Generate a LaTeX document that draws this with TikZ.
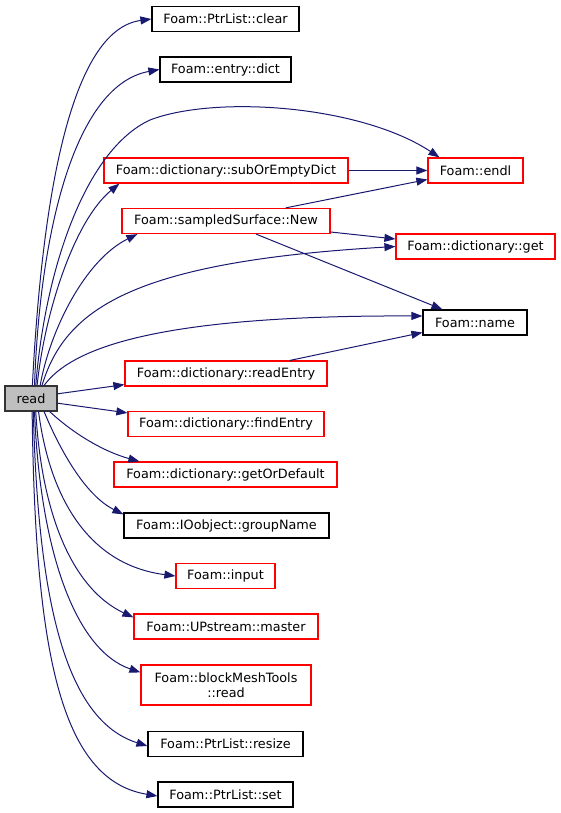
\documentclass[tikz,border=0pt]{standalone}
\usepackage{fontspec}
\setmainfont{DejaVu Sans}
\usepackage{tikz}
\usetikzlibrary{arrows.meta}
\definecolor{calledge}{RGB}{25,25,112}
\definecolor{docred}{RGB}{255,0,0}
\definecolor{rootgray}{RGB}{191,191,191}

\begin{document}
\begin{tikzpicture}[x=1pt, y=-1pt,
  every node/.style={font=\fontsize{12.8}{15}\selectfont},
  fn/.style={rectangle, draw=black, fill=white, line width=1.2pt,
             minimum height=25pt, inner sep=1pt, align=center},
  fnred/.style={fn, draw=docred},
  root/.style={fn, fill=rootgray, draw=black!80},
  call/.style={-{Triangle[length=11pt,width=8pt]}, draw=calledge, line width=1pt},
]
\useasboundingbox (0,0) rectangle (560,813);

% Caller
\node[root, minimum width=52pt] (read) at (31,398.5) {read};

% Callees, upper part
\node[fn, minimum width=147pt]    (clear)  at (225.5,19)   {Foam::PtrList::clear};
\node[fn, minimum width=131pt]    (dict)   at (225.5,69.5) {Foam::entry::dict};
\node[fnred, minimum width=244pt] (subdict) at (226,170.5) {Foam::dictionary::subOrEmptyDict};
\node[fnred, minimum width=208pt] (ssnew)  at (226,221)    {Foam::sampledSurface::New};
\node[fnred, minimum width=95pt]  (endl)   at (475.5,170.5) {Foam::endl};
\node[fnred, minimum width=159pt] (get)    at (475.5,246.5) {Foam::dictionary::get};
\node[fn, minimum width=104pt]    (name)   at (475,322.5)  {Foam::name};

% Callees, lower part
\node[fnred, minimum width=202pt] (readentry) at (226,373.5) {Foam::dictionary::readEntry};
\node[fnred, minimum width=196pt] (findentry) at (226,424)   {Foam::dictionary::findEntry};
\node[fnred, minimum width=223pt] (getordef)  at (225.5,474.5) {Foam::dictionary::getOrDefault};
\node[fn, minimum width=205pt]    (groupname) at (226.5,525.5) {Foam::IOobject::groupName};
\node[fnred, minimum width=99pt]  (input)     at (225.5,576) {Foam::input};
\node[fnred, minimum width=184pt] (master)    at (226,626.5) {Foam::UPstream::master};
\node[fnred, minimum width=170pt, minimum height=40pt] (bmtread) at (226,685)
     {Foam::blockMeshTools\\::read};
\node[fn, minimum width=155pt]    (resize)    at (225.5,744) {Foam::PtrList::resize};
\node[fn, minimum width=135pt]    (ptrset)    at (225.5,794.5) {Foam::PtrList::set};

% Calls from read
\draw[call] (read.84) .. controls (42,200) and (70,30) .. (clear.west);
\draw[call] (read.75) .. controls (40,230) and (75,85) .. (dict.west);
\draw[call] (read.70) .. controls (45,270) and (85,150) .. (150,120)
            .. controls (215,95) and (360,105) .. (endl.160);
\draw[call] (read.65) .. controls (45,310) and (75,220) .. ([xshift=16pt]subdict.south west);
\draw[call] (read.55) .. controls (50,330) and (85,260) .. ([xshift=16pt]ssnew.south west);
\draw[call] (read.50) .. controls (65,310) and (130,262) .. (get.west);
\draw[call] (read.45) .. controls (70,350) and (150,315) .. ([yshift=6.5pt]name.west);
\draw[call] (read.10) -- ([yshift=2pt]readentry.south west);
\draw[call] (read.-10) -- ([yshift=-2pt]findentry.north west);
\draw[call] (read.-35) .. controls (75,435) and (105,452) .. ([xshift=26pt]getordef.north west);
\draw[call] (read.-45) .. controls (60,450) and (85,495) .. ([yshift=-2pt]groupname.north west);
\draw[call] (read.-60) .. controls (50,500) and (90,565) .. (input.west);
\draw[call] (read.-70) .. controls (42,520) and (75,590) .. ([yshift=-4pt]master.north west);
\draw[call] (read.-75) .. controls (40,550) and (75,650) .. ([yshift=-8pt]bmtread.north west);
\draw[call] (read.-80) .. controls (38,600) and (65,720) .. ([yshift=-2pt]resize.west);
\draw[call] (read.-85) .. controls (35,650) and (60,780) .. ([yshift=-1.5pt]ptrset.west);

% Further calls
\draw[call] (subdict.east) -- (endl.west);
\draw[call] ([xshift=-45pt]ssnew.north east) -- ([yshift=-9pt]endl.west);
\draw[call] ([yshift=-11pt]ssnew.east) -- ([yshift=7.5pt]get.west);
\draw[call] ([xshift=30pt]ssnew.south) -- ([xshift=20pt]name.north west);
\draw[call] ([xshift=64pt]readentry.north) -- ([yshift=-10pt]name.west);

\end{tikzpicture}
\end{document}
